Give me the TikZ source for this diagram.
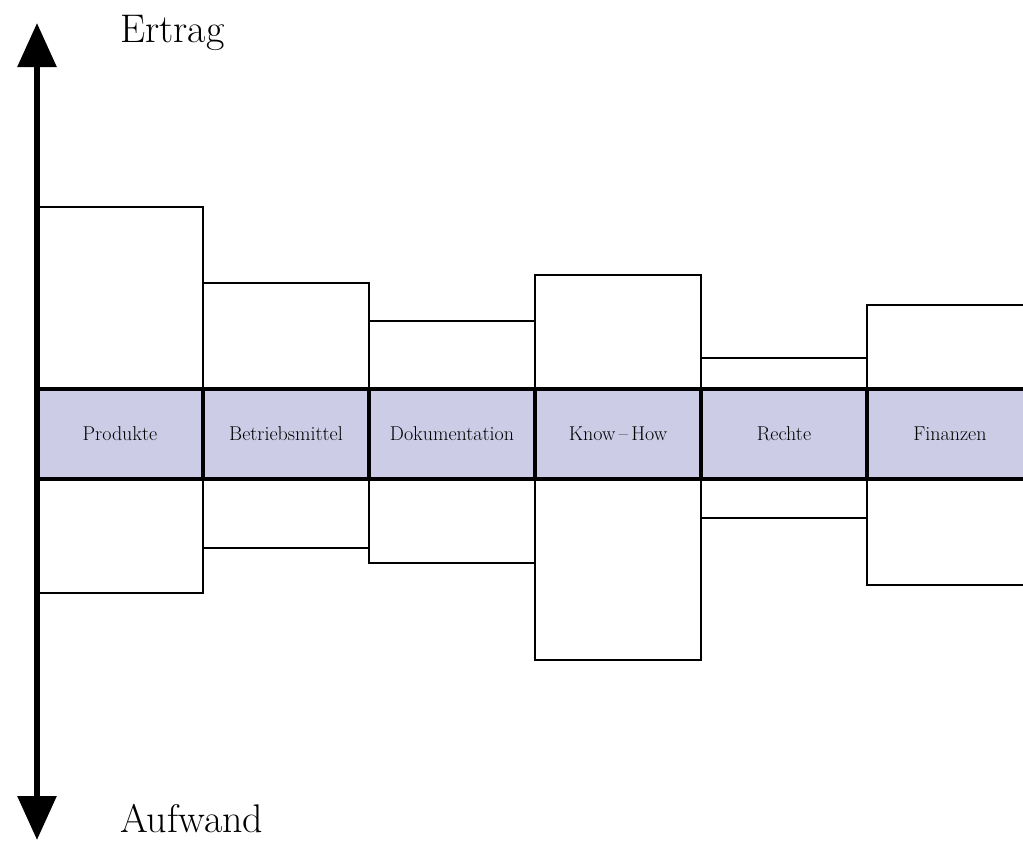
\documentclass[tikz,border=0pt]{standalone}
\usepackage{tikz}
\usepackage{xcolor}
\usetikzlibrary{arrows.meta, positioning}
\definecolor{bandblue}{RGB}{204, 204, 230}

\begin{document}
\begin{tikzpicture}[
    x=1pt, y=-1pt,
    cell/.style={rectangle, draw=black, line width=4pt, fill=bandblue, outer sep=0pt, inner sep=0pt, minimum width=166pt, minimum height=90pt, font=\fontsize{20}{22}\selectfont, text centered},
    bar/.style={draw=black, line width=2.5pt},
    axis/.style={line width=6pt, {Triangle[length=44pt,width=38pt]}-{Triangle[length=44pt,width=38pt]}},
    axislabel/.style={anchor=base west, inner sep=0pt, font=\fontsize{40}{44}\selectfont}
]

\useasboundingbox (0,0) rectangle (1023,841);
\clip (0,0) rectangle (1023,841);

% Boxes
\draw[bar] (37,207) rectangle (203,593);
\draw[bar] (203,283) rectangle (369,548);
\draw[bar] (369,321) rectangle (535,563);
\draw[bar] (535,275) rectangle (701,660);
\draw[bar] (701,358) rectangle (867,518);
\draw[bar] (867,305) rectangle (1040,585);

% Band
\node[cell, anchor=west] (produkte) at (37,434) {Produkte};
\node[cell, right=0pt of produkte] (betrieb) {Betriebsmittel};
\node[cell, right=0pt of betrieb] (doku) {Dokumentation};
\node[cell, right=0pt of doku] (knowhow) {Know\,--\,How};
\node[cell, right=0pt of knowhow] (rechte) {Rechte};
\node[cell, right=0pt of rechte] (finanzen) {Finanzen};

% Axis
\coordinate (top) at (37,23);
\coordinate (bottom) at (37,840);
\draw[axis] (bottom) -- (top);

\node[axislabel] (ertrag) at (120,42) {Ertrag};
\node[axislabel] (aufwand) at (120,832) {Aufwand};

\end{tikzpicture}
\end{document}
